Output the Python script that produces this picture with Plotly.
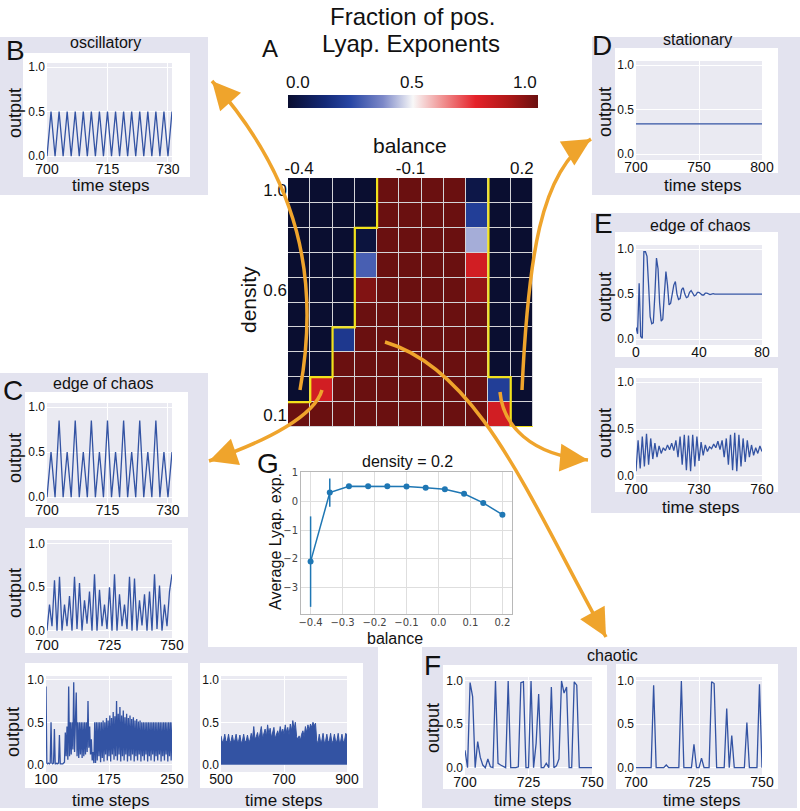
import math
import plotly.graph_objects as go

W, H = 800, 811
FONT = "Liberation Sans, Arial, sans-serif"
LINE = "#3353a3"
ORANGE = "#EFA42C"
LAV = "#E3E3EF"
GRAYBG = "#EAEAF2"
G_BLUE = "#1f77b4"

# ---------------- data ----------------
balance = [-0.4, -0.34, -0.28, -0.22, -0.16, -0.1, -0.04, 0.02, 0.08, 0.14, 0.2]
density = [1.0, 0.9, 0.8, 0.7, 0.6, 0.5, 0.4, 0.3, 0.2, 0.1]
frac_pos = [
    [0, 0, 0, 0.00, 1, 1, 1, 1, 0.05, 0, 0],
    [0, 0, 0, 0.00, 1, 1, 1, 1, 0.22, 0, 0],
    [0, 0, 0, 0.03, 1, 1, 1, 1, 0.42, 0, 0],
    [0, 0, 0, 0.30, 1, 1, 1, 1, 0.80, 0, 0],
    [0, 0, 0, 0.96, 1, 1, 1, 1, 0.93, 0, 0],
    [0, 0, 0, 1.00, 1, 1, 1, 1, 1.00, 0, 0],
    [0, 0, 0.2, 1.00, 1, 1, 1, 1, 1.00, 0, 0],
    [0, 0, 1, 1.00, 1, 1, 1, 1, 1.00, 0, 0],
    [0, 0.8, 1, 1.00, 1, 1, 1, 1, 1.00, 0.22, 0],
    [1, 1, 1, 1.00, 1, 1, 1, 1, 1.00, 0.80, 0],
]
chaos_left_col = [4, 4, 3, 3, 3, 3, 2, 2, 1, 0]
chaos_right_col = [8, 8, 8, 8, 8, 8, 8, 8, 9, 9]

g_mean = [-2.1, 0.31, 0.53, 0.53, 0.53, 0.52, 0.48, 0.43, 0.27, -0.05, -0.46]
g_err = [1.58, 0.49, 0, 0, 0, 0, 0, 0, 0, 0, 0]

osc_t = list(range(700, 732))
osc_v = [0.0, 0.5, 0.0, 0.5, 0.0, 0.5, 0.0, 0.5, 0.0, 0.5, 0.0, 0.5, 0.0, 0.5, 0.0, 0.5,
         0.0, 0.5, 0.0, 0.5, 0.0, 0.5, 0.0, 0.5, 0.0, 0.5, 0.0, 0.5, 0.0, 0.5, 0.0, 0.5]

stat_t = [700, 800]
stat_v = [0.34, 0.34]

e1_v = [0.13, 0.06, 0.62, 0.03, 0.01, 0.97, 0.97, 0.92, 0.60, 0.25,
        0.17, 0.18, 0.50, 0.90, 0.78, 0.40, 0.20, 0.22, 0.50, 0.75,
        0.60, 0.38, 0.40, 0.50, 0.60, 0.64, 0.50, 0.44, 0.45, 0.55,
        0.57, 0.50, 0.46, 0.47, 0.52, 0.54, 0.50, 0.48, 0.49, 0.52,
        0.52, 0.50, 0.49, 0.49, 0.51, 0.51, 0.50, 0.495, 0.50, 0.505,
        0.50, 0.50, 0.50, 0.50, 0.50, 0.50, 0.50, 0.50, 0.50, 0.50,
        0.50, 0.50, 0.50, 0.50, 0.50, 0.50, 0.50, 0.50, 0.50, 0.50,
        0.50, 0.50, 0.50, 0.50, 0.50, 0.50, 0.50, 0.50, 0.50, 0.50, 0.50]
e1_t = list(range(0, len(e1_v)))

e2_v = [0.05, 0.38, 0.08, 0.42, 0.10, 0.45, 0.12, 0.40, 0.18, 0.35,
        0.20, 0.32, 0.24, 0.30, 0.27, 0.33, 0.28, 0.35, 0.27, 0.38,
        0.20, 0.42, 0.12, 0.44, 0.06, 0.43, 0.05, 0.44, 0.10, 0.42,
        0.16, 0.36, 0.22, 0.33, 0.26, 0.31, 0.29, 0.34, 0.30, 0.37,
        0.28, 0.38, 0.20, 0.40, 0.12, 0.44, 0.06, 0.46, 0.05, 0.44,
        0.10, 0.40, 0.15, 0.38, 0.20, 0.33, 0.22, 0.30, 0.24, 0.32, 0.26]
e2_t = list(range(700, 700 + len(e2_v)))

c1_v = [0.0, 0.5, 0.0, 0.85, 0.0, 0.5, 0.0, 0.85, 0.0, 0.5, 0.0, 0.85, 0.0, 0.5, 0.0, 0.85,
        0.0, 0.5, 0.0, 0.85, 0.0, 0.5, 0.0, 0.85, 0.0, 0.5, 0.0, 0.85, 0.0, 0.5, 0.0, 0.5]
c1_t = list(range(700, 700 + len(c1_v)))

c2_v = [0.00, 0.30, 0.05, 0.58, 0.00, 0.62, 0.00, 0.30, 0.05, 0.40,
        0.00, 0.62, 0.02, 0.55, 0.00, 0.35, 0.08, 0.45, 0.00, 0.65,
        0.00, 0.47, 0.05, 0.30, 0.02, 0.50, 0.00, 0.65, 0.00, 0.42,
        0.05, 0.30, 0.02, 0.62, 0.00, 0.60, 0.00, 0.35, 0.06, 0.42,
        0.00, 0.45, 0.00, 0.65, 0.02, 0.52, 0.00, 0.30, 0.05, 0.45, 0.65]
c2_t = list(range(700, 700 + len(c2_v)))

c3_v = [0.92, 0.02, 0.01, 0.02, 0.01, 0.02, 0.50, 0.02, 0.01, 0.02,
        0.42, 0.01, 0.01, 0.02, 0.01, 0.02, 0.35, 0.01, 0.01, 0.01,
        0.01, 0.02, 0.03, 0.38, 0.10, 0.45, 0.06, 0.92, 0.10, 0.50,
        0.12, 0.50, 0.18, 0.97, 0.15, 0.50, 0.85, 0.10, 0.50, 0.08,
        0.50, 0.12, 0.50, 0.08, 0.50, 0.10, 0.50, 0.12, 0.50, 0.15,
        0.75, 0.20, 0.45, 0.12, 0.30, 0.05, 0.15, 0.02, 0.50, 0.02,
        0.50, 0.05, 0.50, 0.10, 0.50, 0.03, 0.50, 0.08, 0.52, 0.04,
        0.50, 0.12, 0.55, 0.05, 0.52, 0.10, 0.58, 0.04, 0.55, 0.12,
        0.62, 0.06, 0.57, 0.10, 0.75, 0.05, 0.60, 0.12, 0.68, 0.04,
        0.58, 0.10, 0.64, 0.05, 0.56, 0.12, 0.60, 0.04, 0.55, 0.10,
        0.58, 0.05, 0.54, 0.12, 0.56, 0.04, 0.52, 0.10, 0.54, 0.05,
        0.51, 0.12, 0.52, 0.04, 0.50, 0.10, 0.50, 0.05, 0.50, 0.12,
        0.50, 0.04, 0.50, 0.10, 0.50, 0.05, 0.50, 0.12, 0.50, 0.04,
        0.50, 0.10, 0.50, 0.05, 0.50, 0.12, 0.50, 0.04, 0.50, 0.10,
        0.50, 0.05, 0.50, 0.12, 0.50, 0.04, 0.50, 0.10, 0.50, 0.05, 0.50]
c3_t = list(range(100, 100 + len(c3_v)))

c4_env = [0.34, 0.27, 0.28, 0.36, 0.27, 0.28, 0.36, 0.26, 0.28, 0.35, 0.27, 0.29, 0.36,
          0.27, 0.28, 0.35, 0.26, 0.28, 0.36, 0.27, 0.28, 0.35, 0.27, 0.29, 0.37, 0.30,
          0.45, 0.30, 0.33, 0.38, 0.29, 0.40, 0.45, 0.31, 0.36, 0.42, 0.33, 0.47, 0.36,
          0.43, 0.32, 0.38, 0.44, 0.31, 0.35, 0.40, 0.34, 0.45, 0.37, 0.42, 0.36,
          0.47, 0.38, 0.44, 0.35, 0.48, 0.40, 0.52, 0.42, 0.50, 0.33, 0.30, 0.34, 0.29,
          0.36, 0.40, 0.33, 0.45, 0.38, 0.47, 0.40, 0.48, 0.44, 0.50, 0.46, 0.49,
          0.28, 0.26, 0.36, 0.27, 0.28, 0.37, 0.26, 0.28, 0.36, 0.27, 0.28, 0.37, 0.26,
          0.28, 0.36, 0.27, 0.28, 0.37, 0.26, 0.28, 0.36, 0.27, 0.28, 0.37, 0.35]
c4_t = list(range(500, 500 + 4 * len(c4_env), 4))

f1_v = [0.20, 0.00, 0.98, 0.82, 0.00, 0.30, 0.12, 0.03, 0.00, 0.10,
        0.01, 0.00, 1.00, 0.05, 0.03, 0.01, 0.00, 1.00, 0.00, 0.00,
        0.00, 0.01, 0.98, 0.99, 0.00, 0.00, 1.00, 0.00, 0.28, 0.85,
        0.00, 0.00, 0.05, 0.00, 0.93, 0.00, 0.02, 0.10, 1.00, 0.86,
        0.93, 0.00, 0.00, 0.99, 0.95, 0.00, 0.00, 0.00, 0.00, 0.00, 0.00]
f1_t = list(range(700, 700 + len(f1_v)))

f2_v = [0.00, 0.00, 0.00, 0.00, 0.00, 0.00, 0.00, 0.95, 0.00, 0.00,
        0.00, 0.00, 0.03, 0.00, 0.00, 0.00, 0.00, 0.00, 1.00, 0.00,
        0.00, 0.00, 0.00, 0.27, 0.00, 0.00, 0.11, 0.00, 0.00, 0.00,
        0.99, 0.97, 0.00, 0.00, 0.00, 0.00, 0.68, 0.00, 0.37, 0.00,
        0.00, 0.00, 0.00, 0.00, 0.52, 0.00, 0.00, 0.00, 0.00, 0.96, 0.00]
f2_t = list(range(700, 700 + len(f2_v)))

# ---------------- helpers ----------------
def X(px):
    return px / W


def Y(py):
    return 1 - py / H


fig = go.Figure()
shapes = []
annotations = []
axes_layout = {}
counter = [0]


def rect(x0, y0, x1, y1, color, layer="below"):
    shapes.append(dict(type="rect", xref="paper", yref="paper", x0=X(x0), x1=X(x1),
                       y0=Y(y1), y1=Y(y0), fillcolor=color, line=dict(width=0), layer=layer))


def text(s, x, y, size, angle=0, color="#111111", xanchor="center", yanchor="middle"):
    annotations.append(dict(text=s, x=X(x), y=Y(y), xref="paper", yref="paper", showarrow=False,
                            font=dict(size=size, color=color, family=FONT), textangle=angle,
                            xanchor=xanchor, yanchor=yanchor, borderpad=0))


def add_axes(box, xcfg, ycfg):
    counter[0] += 1
    i = counter[0]
    sx = "" if i == 1 else str(i)
    x0, y0, x1, y1 = box
    axes_layout["xaxis" + sx] = dict(domain=[X(x0), X(x1)], anchor="y" + sx, automargin=False, **xcfg)
    axes_layout["yaxis" + sx] = dict(domain=[Y(y1), Y(y0)], anchor="x" + sx, automargin=False, **ycfg)
    return "x" + sx, "y" + sx


def arrow(p0, c1, c2, p1):
    path = "M {},{} C {},{} {},{} {},{}".format(X(p0[0]), Y(p0[1]), X(c1[0]), Y(c1[1]),
                                              X(c2[0]), Y(c2[1]), X(p1[0]), Y(p1[1]))
    shapes.append(dict(type="path", path=path, xref="paper", yref="paper",
                       line=dict(color=ORANGE, width=3.5), layer="above"))
    dx, dy = p1[0] - c2[0], p1[1] - c2[1]
    n = math.hypot(dx, dy)
    L = 14
    annotations.append(dict(x=X(p1[0]), y=Y(p1[1]), xref="paper", yref="paper", text="",
                            showarrow=True, ax=-dx / n * L, ay=-dy / n * L, axref="pixel", ayref="pixel",
                            arrowhead=2, arrowsize=1.6, arrowwidth=3.5, arrowcolor=ORANGE,
                            standoff=0, startstandoff=0))


# ---------------- panel backgrounds ----------------
rect(0, 37, 208, 195, LAV)        # B
rect(592, 37, 800, 195, LAV)      # D
rect(591, 213, 800, 513, LAV)     # E
rect(0, 373, 208, 647, LAV)       # C (upper)
rect(0, 647, 378, 808, LAV)       # C (lower)
rect(422, 647, 797, 808, LAV)     # F

cards = [(23, 53, 190, 177), (615, 48, 778, 173), (615, 232, 778, 357), (615, 368, 778, 492),
         (25, 392, 188, 517), (25, 528, 188, 653), (25, 663, 188, 788), (200, 663, 363, 788),
         (443, 665, 607, 789), (616, 664, 778, 789)]
for c in cards:
    rect(*c, "white")

# ---------------- heatmap (A) ----------------
hx, hy = add_axes((288, 178, 533, 427),
                  dict(range=[-0.43, 0.23], side="top", tickvals=[-0.4, -0.1, 0.2],
                       ticktext=["-0.4", "-0.1", "0.2"], showgrid=False, zeroline=False,
                       ticks="", tickfont=dict(size=17, color="#111", family=FONT)),
                  dict(range=[0.05, 1.05], tickvals=[1.0, 0.6, 0.1], ticktext=["1.0", "0.6", "0.1"],
                       showgrid=False, zeroline=False, ticks="",
                       tickfont=dict(size=17, color="#111", family=FONT)))
shapes.append(dict(type="rect", xref="x domain", yref="y domain", x0=0, x1=1, y0=0, y1=1,
                   fillcolor="#d4d4d8", line=dict(width=0), layer="below"))
cscale = [[0.0, "#0a0e30"], [0.15, "#142a78"], [0.25, "#2846a4"], [0.38, "#7c88c8"],
          [0.5, "#f8f8f8"], [0.62, "#f09090"], [0.75, "#e5222a"], [0.88, "#b01818"],
          [1.0, "#6a1010"]]
fig.add_trace(go.Heatmap(x=balance, y=density, z=frac_pos, zmin=0, zmax=1, colorscale=cscale,
                         xgap=1, ygap=1, xaxis=hx, yaxis=hy, hoverinfo="skip",
                         colorbar=dict(orientation="h", x=X(413), xanchor="center", y=Y(95),
                                       yanchor="top", len=250 / W, lenmode="fraction",
                                       thickness=13, outlinewidth=0, showticklabels=False,
                                       ticks="", xpad=0, ypad=0)))

# yellow boundaries
dxh, dyh = 0.03, 0.05
lx, ly = [], []
for d, col in zip(density, chaos_left_col):
    xe = balance[col] - dxh
    lx.append(xe); ly.append(d + dyh)
    if col == 0:
        break
    lx.append(xe); ly.append(d - dyh)
rx, ry = [], []
for d, col in zip(density, chaos_right_col):
    xe = balance[col] + dxh
    rx += [xe, xe]; ry += [d + dyh, d - dyh]
rx.append(balance[-1] + dxh); ry.append(density[-1] - dyh)
for bx, by in ((lx, ly), (rx, ry)):
    fig.add_trace(go.Scatter(x=bx, y=by, mode="lines", line=dict(color="#f2e21c", width=2.2),
                             xaxis=hx, yaxis=hy, hoverinfo="skip", showlegend=False))

# ---------------- time series ----------------
def ts_panel(box, xr, xt, t, v, fill=False, ylo=-0.065):
    xa, ya = add_axes(box,
                      dict(range=xr, tickvals=xt, ticktext=[str(k) for k in xt], showgrid=True,
                           gridcolor="white", gridwidth=1, zeroline=False, ticks="",
                           ticklabelstandoff=-3,
                           tickfont=dict(size=14, color="#111", family=FONT)),
                      dict(range=[ylo, 1.045], tickvals=[0, 0.5, 1.0],
                           ticktext=["0.0", "0.5", "1.0"], showgrid=True, gridcolor="white",
                           gridwidth=1, zeroline=False, ticks="", ticklabelstandoff=1,
                           tickfont=dict(size=12, color="#111", family=FONT)))
    shapes.append(dict(type="rect", xref=xa + " domain", yref=ya + " domain", x0=0, x1=1,
                       y0=0, y1=1, fillcolor=GRAYBG, line=dict(width=0), layer="below"))
    fig.add_trace(go.Scatter(x=t, y=v, mode="lines", xaxis=xa, yaxis=ya, hoverinfo="skip",
                             showlegend=False, line=dict(color=LINE, width=1.0 if fill else 1.3),
                             fill="tozeroy" if fill else None, fillcolor=LINE if fill else None))


ts_panel((47, 63, 172, 162), [700, 731], [700, 715, 730], osc_t, osc_v)
ts_panel((636, 61, 762, 160), [700, 800], [700, 750, 800], stat_t, stat_v)
ts_panel((636, 245, 762, 345), [0, 80], [0, 40, 80], e1_t, e1_v)
ts_panel((636, 378, 762, 482), [700, 760], [700, 730, 760], e2_t, e2_v)
ts_panel((47, 403, 172, 503), [700, 731], [700, 715, 730], c1_t, c1_v)
ts_panel((47, 540, 172, 638), [700, 750], [700, 725, 750], c2_t, c2_v, ylo=-0.085)
ts_panel((46, 676, 172, 772), [100, 250], [100, 175, 250], c3_t, c3_v, ylo=-0.085)
ts_panel((221, 676, 347, 772), [500, 900], [500, 700, 900], c4_t, c4_env, fill=True, ylo=-0.085)
ts_panel((465, 677, 592, 775), [700, 750], [700, 725, 750], f1_t, f1_v, ylo=-0.085)
ts_panel((636, 677, 762, 775), [700, 750], [700, 725, 750], f2_t, f2_v, ylo=-0.085)

# ---------------- G ----------------
gx, gy = add_axes((301, 472, 512, 614),
                  dict(range=[-0.43, 0.23], tickvals=[-0.4, -0.3, -0.2, -0.1, 0.0, 0.1, 0.2],
                       tickformat=".1f", showgrid=True, gridcolor="#dedede", zeroline=False,
                       showline=True, linecolor="#b8b8b8", mirror=True, ticks="",
                       ticklabelstandoff=-1,
                       tickfont=dict(size=10, color="#444", family="DejaVu Sans")),
                  dict(range=[-3.93, 1.03], tickvals=[-3, -2, -1, 0, 1], tickformat="d",
                       showgrid=True, gridcolor="#dedede", zeroline=False,
                       showline=True, linecolor="#b8b8b8", mirror=True, ticks="",
                       tickfont=dict(size=10, color="#444", family="DejaVu Sans")))
fig.add_trace(go.Scatter(x=balance, y=g_mean, mode="lines+markers", xaxis=gx, yaxis=gy,
                         line=dict(color=G_BLUE, width=1.5), marker=dict(size=6, color=G_BLUE),
                         error_y=dict(type="data", array=g_err, visible=True, width=0,
                                      thickness=1.5, color=G_BLUE),
                         hoverinfo="skip", showlegend=False))

# ---------------- texts ----------------
text("Fraction of pos.", 412, 16, 24)
text("Lyap. Exponents", 411, 44, 24)
text("A", 270, 48, 24)
text("0.0", 298, 83, 17)
text("0.5", 412, 83, 17)
text("1.0", 525, 83, 17)
text("balance", 410, 145, 21)
text("density", 248, 300, 21, angle=-90)

text("B", 15, 50, 28); text("oscillatory", 105, 43, 16)
text("D", 602, 45, 28); text("stationary", 697, 40, 16)
text("E", 603, 223, 28); text("edge of chaos", 700, 225, 16)
text("C", 13, 390, 28); text("edge of chaos", 103, 383, 16)
text("F", 432, 665, 28); text("chaotic", 612, 655, 16)
text("G", 268, 463, 28)
text("density = 0.2", 407, 461, 16)
text("Average Lyap. exp.", 275, 542, 16, angle=-90)
text("balance", 395, 638, 16)

for (x, y) in [(15, 113), (605, 112), (605, 297), (605, 433), (15, 458), (15, 593), (13, 732), (433, 728)]:
    text("output", x, y, 18, angle=-90)
for (x, y) in [(110, 186), (702, 185), (700, 507), (110, 800), (283, 800), (532, 800), (701, 800)]:
    text("time steps", x, y, 17)

# ---------------- arrows ----------------
arrow((300, 390), (320, 280), (300, 180), (212, 81))      # to B
arrow((522, 390), (528, 260), (540, 170), (591, 139))     # to D
arrow((322, 390), (315, 415), (270, 440), (209, 461))     # to C
arrow((500, 392), (503, 425), (530, 455), (588, 460))     # to E
arrow((385, 342), (480, 370), (530, 500), (606, 637))     # to F

fig.update_layout(width=W, height=H, autosize=False,
                  margin=dict(l=0, r=0, t=0, b=0, pad=0, autoexpand=False),
                  paper_bgcolor="white", plot_bgcolor="rgba(0,0,0,0)", showlegend=False,
                  hovermode=False, font=dict(family=FONT, color="#111"),
                  shapes=shapes, annotations=annotations, **axes_layout)

fig.write_html("out.html", config={"displayModeBar": False},
               post_script="document.body.style.margin='0';document.body.style.padding='0';"
                           "document.documentElement.style.overflow='hidden';"
                           "document.body.style.overflow='hidden';")
